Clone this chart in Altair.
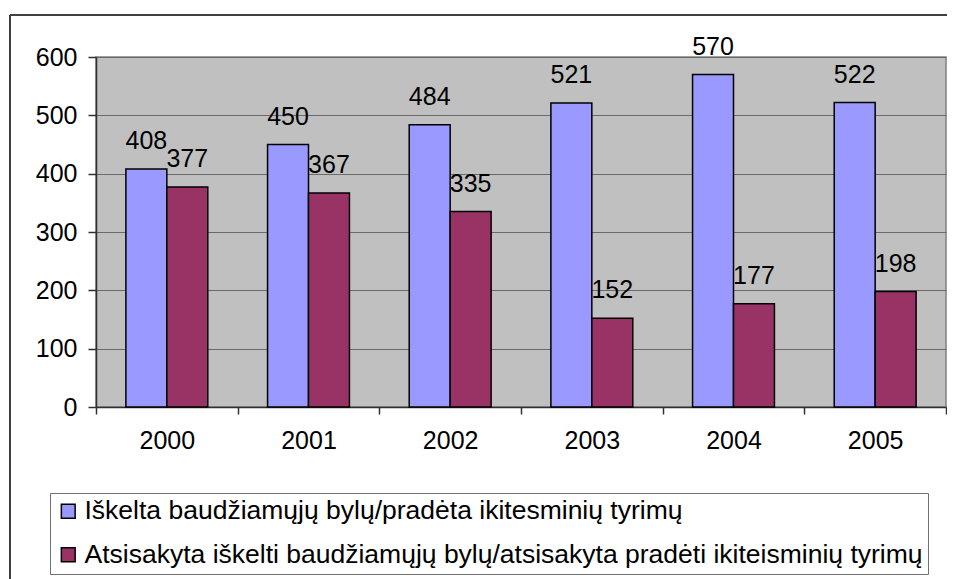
import altair as alt
import pandas as pd

years = ["2000", "2001", "2002", "2003", "2004", "2005"]
series = [
    "Iškelta baudžiamųjų bylų/pradėta ikitesminių tyrimų",
    "Atsisakyta iškelti baudžiamųjų bylų/atsisakyta pradėti ikiteisminių tyrimų",
]
iskelta = [408, 450, 484, 521, 570, 522]
atsisakyta = [377, 367, 335, 152, 177, 198]
y_ticks = [0, 100, 200, 300, 400, 500, 600]
colors = ["#9999FF", "#993366"]

rows = []
for yr, a, b in zip(years, iskelta, atsisakyta):
    rows.append({"year": yr, "series": series[0], "value": a})
    rows.append({"year": yr, "series": series[1], "value": b})
df = pd.DataFrame(rows)

FONT = "Liberation Sans"
FS = 25

x_enc = alt.X(
    "year:N",
    title=None,
    sort=years,
    scale=alt.Scale(paddingInner=0, paddingOuter=0),
    axis=alt.Axis(
        labelAngle=0,
        tickBand="extent",
        tickSize=7,
        labelPadding=14,
        labelFontSize=FS,
        labelFont=FONT,
        labelColor="black",
        domainColor="#303030",
        tickColor="#303030",
        domainWidth=1.5,
        tickWidth=1.5,
        grid=False,
    ),
)
xoff_enc = alt.XOffset(
    "series:N", sort=series, scale=alt.Scale(paddingInner=0, paddingOuter=0.73)
)
y_enc = alt.Y(
    "value:Q",
    title=None,
    scale=alt.Scale(domain=[0, 600], nice=False),
    axis=alt.Axis(
        values=y_ticks,
        tickSize=8,
        labelPadding=11,
        labelFontSize=FS,
        labelFont=FONT,
        labelColor="black",
        domainColor="#303030",
        tickColor="#303030",
        domainWidth=1.5,
        tickWidth=1.5,
        grid=True,
        gridColor="#6a6a6a",
        gridWidth=1.2,
    ),
)

base = alt.Chart(df)

frame_top = base.mark_rule(stroke="#404040", strokeWidth=1.5, clip=False).encode(
    x=alt.value(-86), x2=alt.value(900), y=alt.value(-42)
)
frame_left = base.mark_rule(stroke="#404040", strokeWidth=1.5, clip=False).encode(
    x=alt.value(-86), y=alt.value(-42), y2=alt.value(560)
)

bars = base.mark_bar(stroke="black", strokeWidth=1.5).encode(
    x=x_enc,
    xOffset=xoff_enc,
    y=y_enc,
    color=alt.Color(
        "series:N",
        sort=series,
        scale=alt.Scale(domain=series, range=colors),
        legend=alt.Legend(
            title=None,
            orient="none",
            legendX=-46,
            legendY=436,
            strokeColor="#707070",
            padding=5,
            labelFontSize=26.5,
            labelFont=FONT,
            labelColor="black",
            labelLimit=2000,
            labelOffset=3,
            symbolType="square",
            symbolSize=190,
            symbolStrokeColor="black",
            symbolStrokeWidth=1.5,
            rowPadding=16.5,
        ),
    ),
)

labels = base.mark_text(
    baseline="alphabetic", dy=-20, fontSize=FS, font=FONT, color="black"
).encode(
    x=x_enc,
    xOffset=xoff_enc,
    y=y_enc,
    text=alt.Text("value:Q"),
)

chart = (
    alt.layer(frame_top, frame_left, bars, labels)
    .properties(
        width=850,
        height=350,
        autosize=alt.AutoSizeParams(type="none"),
        padding={"left": 88, "top": 49, "right": 1, "bottom": 180},
        background="white",
    )
    .configure_view(fill="#C0C0C0", stroke="#808080", strokeWidth=1.5)
)

chart.save("out.html", embed_options={"renderer": "svg", "actions": False})
